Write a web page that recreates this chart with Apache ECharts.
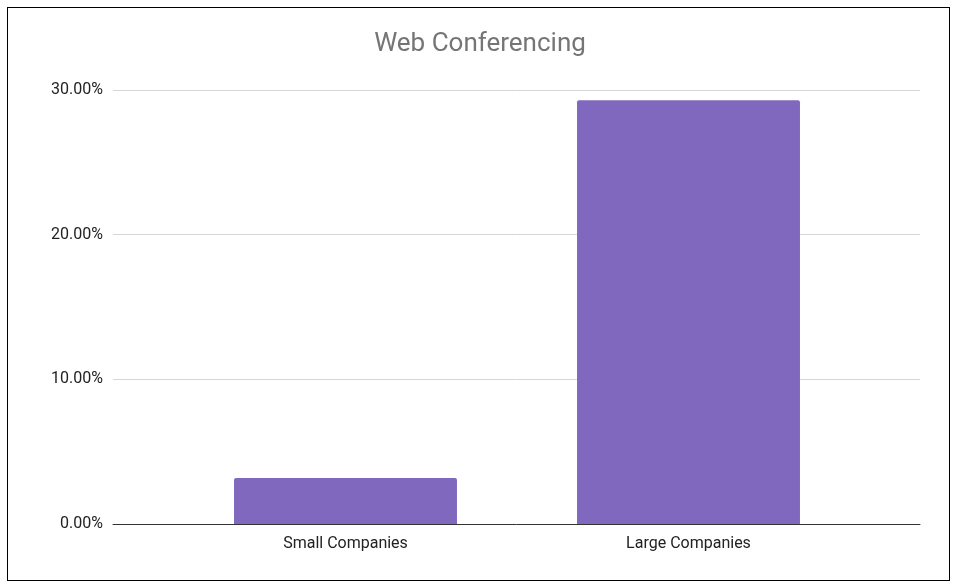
<!DOCTYPE html>
<html><head><meta charset="utf-8">
<script src="https://cdn.jsdelivr.net/npm/echarts@6/dist/echarts.min.js"></script>
<style>
body{margin:0;background:#fff}
#frame{position:absolute;left:7px;top:7px;width:941px;height:572px;border:1px solid #000}
#c{position:absolute;left:0;top:0;width:960px;height:588px}
</style></head>
<body><div id="frame"></div><div id="c"></div>
<script>
const categories = ['Small Companies', 'Large Companies'];
const values = [0.0318, 0.293];
const yTicks = [0, 0.1, 0.2, 0.3];

const ec = echarts.init(document.getElementById('c'));
const font = 'Roboto, Arial, sans-serif';
ec.setOption({
  title: {text: 'Web Conferencing', left: 'center', top: 26,
    textStyle: {fontFamily: font, fontSize: 26, fontWeight: 'normal', color: '#757575'}},
  grid: [
    {left: 113, right: 40, top: 90, bottom: 64},
    {left: 174, right: 100, top: 90, bottom: 64}
  ],
  xAxis: [
    {gridIndex: 0, type: 'value', min: 0, max: 1, axisLabel: {show: false}, axisTick: {show: false},
      splitLine: {show: false}, axisLine: {show: true, lineStyle: {color: '#333', width: 1}}},
    {gridIndex: 1, type: 'category', data: categories, axisLine: {show: false}, axisTick: {show: false},
      axisLabel: {fontFamily: font, fontSize: 16, color: '#222', margin: 12}}
  ],
  yAxis: [
    {gridIndex: 0, type: 'value', min: yTicks[0], max: yTicks[3], interval: 0.1,
      axisLabel: {fontFamily: font, fontSize: 16, color: '#222', margin: 10,
        formatter: v => (v * 100).toFixed(2) + '%'},
      splitLine: {lineStyle: {color: '#d6d6d6'}}, axisLine: {show: false}, axisTick: {show: false}},
    {gridIndex: 1, type: 'value', min: yTicks[0], max: yTicks[3], show: false}
  ],
  series: [{
    type: 'bar', xAxisIndex: 1, yAxisIndex: 1, data: values, barWidth: '65%',
    itemStyle: {color: '#8068be', borderRadius: [2, 2, 0, 0]}
  }]
});
</script></body></html>
